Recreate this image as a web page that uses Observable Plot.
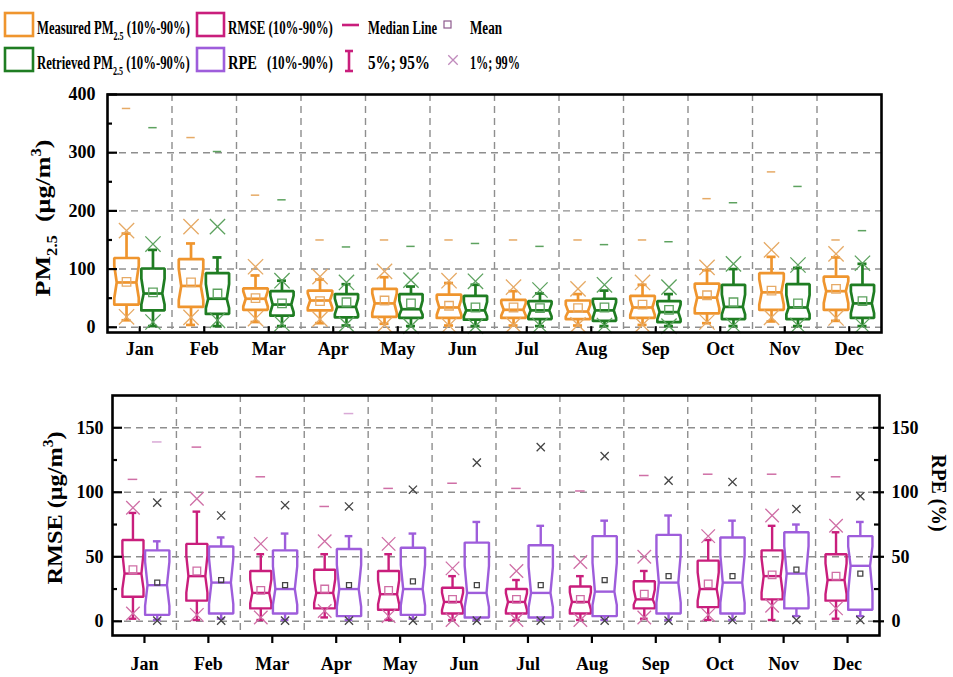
<!DOCTYPE html>
<html>
<head>
<meta charset="utf-8">
<script src="https://cdn.jsdelivr.net/npm/d3@7"></script>
<script src="https://cdn.jsdelivr.net/npm/@observablehq/plot@0.6"></script>
<style>
html,body{margin:0;padding:0;background:#fff;}
#wrap{width:953px;height:677px;overflow:hidden;position:relative;background:#fff;}
svg{display:block;}
</style>
</head>
<body>
<div id="wrap"><div id="legend"></div><div id="top"></div><div id="bottom"></div></div>
<script>
const months = ["Jan","Feb","Mar","Apr","May","Jun","Jul","Aug","Sep","Oct","Nov","Dec"];
const monthPos = [1,2,3,4,5,6,7,8,9,10,11,12];
const monthBounds = [1.5,2.5,3.5,4.5,5.5,6.5,7.5,8.5,9.5,10.5,11.5];

// Measured PM2.5 (µg/m3)
const measP1   = [18,17,15,14,4,3,4,4,4,9,17,16];
const measP5   = [12,4,9,7,6,3,3,3,4,7,10,11];
const measP10  = [39,35,30,29,18,16,16,14,16,24,30,30];
const measMed  = [77,71,49,46,41,34,30,27,34,51,60,62];
const measMean = [78,77,50,45,46,37,34,33,39,55,63,66];
const measP90  = [119,117,67,63,66,56,47,46,54,75,93,87];
const measP95  = [161,144,89,82,86,76,62,57,73,98,121,120];
const measP99  = [166,173,104,87,96,80,69,66,77,103,133,126];
const measMax  = [376,326,227,150,150,150,150,150,150,221,267,150];

// Retrieved PM2.5 (µg/m3)
const retP1   = [9,12,6,5,2,2,3,3,2,3,3,3];
const retP5   = [2,2,2,3,2,2,2,2,2,2,2,2];
const retP10  = [29,23,20,17,16,13,14,11,9,14,14,16];
const retMed  = [58,49,39,35,31,29,29,29,26,35,34,41];
const retMean = [60,58,41,43,41,34,33,34,30,43,41,45];
const retP90  = [101,93,62,57,57,54,45,49,45,73,74,73];
const retP95  = [133,120,80,74,70,73,58,63,57,100,102,109];
const retP99  = [143,173,80,77,81,79,64,73,69,109,107,110];
const retMax  = [343,302,219,138,139,144,139,142,147,214,242,166];

// RMSE (µg/m3)
const rmseP1   = [6,5,3,8,4,1,1,1,3,5,12,10];
const rmseP5   = [2,1,1,3,1,1,1,1,2,1,1,2];
const rmseP10  = [19,16,10,10,9,6,6,6,10,11,17,16];
const rmseMed  = [37,35,22,22,21,15,15,15,17,25,35,32];
const rmseMean = [40,39,24,25,24,17,17,17,21,29,36,35];
const rmseP90  = [63,60,39,40,39,26,25,27,31,47,55,52];
const rmseP95  = [84,85,52,52,52,35,32,35,39,63,74,69];
const rmseP99  = [88,95,60,62,60,41,39,46,50,66,82,74];
const rmseMax  = [110,135,112,89,103,107,103,101,113,114,114,112];

// RPE (%)
const rpeP1   = [0.5,0.5,0.5,0.5,0.5,0.5,0.5,0.5,0.5,1,1,1];
const rpeP5   = [1,2,1,1,2,1,1,1,1,1,4,4];
const rpeP10  = [5,6,6,4,5,3,3,4,6,6,10,9];
const rpeMed  = [28,30,25,25,25,22,22,23,30,30,37,43];
const rpeMean = [30,32,28,28,31,28,28,32,35,35,40,37];
const rpeP90  = [55,58,55,56,57,61,59,66,67,65,69,66];
const rpeP95  = [62,65,68,66,68,77,74,78,82,78,75,77];
const rpeP99  = [92,82,90,89,102,123,135,128,109,108,87,97];
const rpeMax  = [139,null,null,161,null,null,null,null,null,null,null,null];

// axis ticks
const pmTicks = [0,100,200,300,400];
const pmGrid = [0,100,200,300];
const pmMinor = [50,150,250,350];
const errTicks = [0,50,100,150];
const errMinor = [25,75,125];

const FONT = "'Liberation Serif','Times New Roman',serif";
const C = {
  orange:"#EF952E", orangeL:"#E6AA66",
  green:"#1F7D22", greenL:"#5DA25F",
  mag:"#C91E7C", magL:"#CF6FA6",
  purple:"#9E5DDB", dark:"#444444", purpleL:"#D9A9D6",
  grid:"#8E8E8E"
};

function rows(p1,p5,q10,med,mean,q90,p95,p99,max,off){
  return months.map((m,i)=>({c:i+1+off,p1:p1[i],p5:p5[i],q10:q10[i],med:med[i],mean:mean[i],q90:q90[i],p95:p95[i],p99:p99[i],max:max[i]}));
}
function notchPts(rs,hw){
  const pts=[];
  rs.forEach((d,k)=>{
    const h=d.q90-d.q10, ind=hw*0.8;
    const lo=Math.max(d.q10+0.14*h,d.med-0.36*h), hi=Math.min(d.q90-0.14*h,d.med+0.36*h);
    [[-hw,d.q10],[-hw,lo],[-ind,d.med],[-hw,hi],[-hw,d.q90],[hw,d.q90],[hw,hi],[ind,d.med],[hw,lo],[hw,d.q10],[-hw,d.q10]]
      .forEach(([dx,y])=>pts.push({x:d.c+dx,y,k}));
  });
  return pts;
}
function boxMarks(rs,s){
  const ind=s.hw*0.8;
  return [
    Plot.ruleX(rs,{x:"c",y1:"q90",y2:"p95",stroke:s.color,strokeWidth:s.sw}),
    Plot.ruleX(rs,{x:"c",y1:"q10",y2:"p5",stroke:s.color,strokeWidth:s.sw}),
    Plot.ruleY(rs,{y:"p95",x1:d=>d.c-s.cap,x2:d=>d.c+s.cap,stroke:s.color,strokeWidth:s.sw}),
    Plot.ruleY(rs,{y:"p5",x1:d=>d.c-s.cap,x2:d=>d.c+s.cap,stroke:s.color,strokeWidth:s.sw}),
    Plot.line(notchPts(rs,s.hw),{x:"x",y:"y",z:"k",stroke:s.color,strokeWidth:s.sw,strokeLinejoin:"miter"}),
    Plot.ruleY(rs,{y:"med",x1:d=>d.c-ind,x2:d=>d.c+ind,stroke:s.color,strokeWidth:s.sw}),
    Plot.dot(rs,{x:"c",y:"mean",symbol:"square",r:s.meanR,stroke:s.meanColor,strokeWidth:1.3,fill:"none"}),
    Plot.dot(rs,{x:"c",y:"p99",symbol:"times",r:s.xR,stroke:s.xColor,strokeWidth:1.3}),
    Plot.dot(rs,{x:"c",y:"p1",symbol:"times",r:s.xR,stroke:s.xColor,strokeWidth:1.3}),
    Plot.ruleY(rs.filter(d=>d.max!=null),{y:"max",x1:d=>d.c-s.dash,x2:d=>d.c+s.dash,stroke:s.maxColor,strokeWidth:1.5})
  ];
}

// ---------- top panel ----------
const measRows = rows(measP1,measP5,measP10,measMed,measMean,measP90,measP95,measP99,measMax,-0.205);
const retRows  = rows(retP1,retP5,retP10,retMed,retMean,retP90,retP95,retP99,retMax,0.205);
const topYmin = -9;
const topPlot = Plot.plot({
  width:953, height:292,
  marginLeft:107, marginRight:72, marginTop:14, marginBottom:40,
  x:{type:"linear",domain:[0.5,12.5],label:null},
  y:{domain:[topYmin,400],label:null},
  style:{fontFamily:FONT,fontWeight:"bold",background:"#fff",color:"#000"},
  marks:[
    Plot.ruleY(pmGrid,{stroke:C.grid,strokeWidth:1.4,strokeDasharray:"7,5"}),
    Plot.ruleX(monthBounds,{stroke:C.grid,strokeWidth:1.4,strokeDasharray:"7,5"}),
    ...boxMarks(measRows,{hw:0.19,sw:2.7,cap:0.07,color:C.orange,meanColor:C.orangeL,meanR:4.8,xColor:C.orangeL,xR:7,maxColor:C.orangeL,dash:0.065}),
    ...boxMarks(retRows,{hw:0.18,sw:2.7,cap:0.07,color:C.green,meanColor:C.greenL,meanR:4.8,xColor:C.greenL,xR:7,maxColor:C.greenL,dash:0.065}),
    Plot.ruleY(pmTicks,{y:d=>d,x1:0.5,x2:0.5+10/64.5,stroke:"#000",strokeWidth:2.2}),
    Plot.ruleY(pmMinor,{y:d=>d,x1:0.5,x2:0.5+5/64.5,stroke:"#000",strokeWidth:2.2}),
    Plot.ruleX(monthPos,{x:d=>d,y1:topYmin,y2:topYmin+10,stroke:"#000",strokeWidth:2.2}),
    Plot.frame({stroke:"#000",strokeWidth:2.6}),
    Plot.axisY(pmTicks,{anchor:"left",tickSize:0,tickPadding:12,fontSize:18,fontWeight:"bold",label:null}),
    Plot.axisX(monthPos,{anchor:"bottom",tickSize:0,tickPadding:10,fontSize:18,fontWeight:"bold",tickFormat:d=>months[d-1],label:null})
  ]
});
document.getElementById("top").appendChild(topPlot);

// ---------- bottom panel ----------
const rmseRows = rows(rmseP1,rmseP5,rmseP10,rmseMed,rmseMean,rmseP90,rmseP95,rmseP99,rmseMax,-0.18);
const rpeRows  = rows(rpeP1,rpeP5,rpeP10,rpeMed,rpeMean,rpeP90,rpeP95,rpeP99,rpeMax,0.2);
const botYmin = -11;
const botPlot = Plot.plot({
  width:953, height:305,
  marginLeft:112, marginRight:74, marginTop:23, marginBottom:42,
  x:{type:"linear",domain:[0.5,12.5],label:null},
  y:{domain:[botYmin,175],label:null},
  style:{fontFamily:FONT,fontWeight:"bold",background:"#fff",color:"#000"},
  marks:[
    Plot.ruleY(errTicks,{stroke:C.grid,strokeWidth:1.4,strokeDasharray:"7,5"}),
    Plot.ruleX(monthBounds,{stroke:C.grid,strokeWidth:1.4,strokeDasharray:"7,5"}),
    ...boxMarks(rmseRows,{hw:0.165,sw:2.4,cap:0.06,color:C.mag,meanColor:C.magL,meanR:4.3,xColor:C.magL,xR:6.2,maxColor:C.magL,dash:0.075}),
    ...boxMarks(rpeRows,{hw:0.19,sw:2.4,cap:0.06,color:C.purple,meanColor:C.dark,meanR:2.8,xColor:C.dark,xR:3.8,maxColor:C.purpleL,dash:0.075}),
    Plot.ruleY(errTicks,{y:d=>d,x1:0.5,x2:0.5+10/63.9,stroke:"#000",strokeWidth:2.2}),
    Plot.ruleY(errMinor,{y:d=>d,x1:0.5,x2:0.5+5/63.9,stroke:"#000",strokeWidth:2.2}),
    Plot.ruleY(errTicks,{y:d=>d,x1:12.5-6/63.9,x2:12.5+5/63.9,stroke:"#000",strokeWidth:2.2}),
    Plot.ruleY(errMinor,{y:d=>d,x1:12.5-5/63.9,x2:12.5,stroke:"#000",strokeWidth:2.2}),
    Plot.frame({stroke:"#000",strokeWidth:2.6}),
    Plot.axisY(errTicks,{anchor:"left",tickSize:0,tickPadding:9,fontSize:18,fontWeight:"bold",label:null}),
    Plot.axisY(errTicks,{anchor:"right",tickSize:0,tickPadding:12,fontSize:18,fontWeight:"bold",label:null}),
    Plot.axisX(monthPos,{anchor:"bottom",tickSize:8,strokeWidth:2.2,tickPadding:14,fontSize:18,fontWeight:"bold",tickFormat:d=>months[d-1],label:null})
  ]
});
document.getElementById("bottom").appendChild(botPlot);

// ---------- rich text helper ----------
function richText(parent, parts, size){
  const t = parent.append("text").attr("font-family",FONT).attr("font-weight","bold")
    .attr("font-size",size).attr("fill","#000");
  let shift=0;
  parts.forEach(p=>{
    const [str,kind]=Array.isArray(p)?p:[p,"n"];
    let target = kind==="sub"? Math.round(size*0.3) : kind==="sup"? -Math.round(size*0.42) : 0;
    const ts = t.append("tspan").attr("dy", target-shift).text(str);
    if(kind!=="n") ts.attr("font-size", Math.round(size*0.62));
    shift=target;
  });
  return t;
}
function fitText(t, width){
  const w = t.node().getComputedTextLength();
  if(w>0) t.attr("transform",`scale(${width/w},1)`);
}
function axisTitle(svg,x,y,rot,parts,size,len){
  const g=d3.select(svg).append("g").attr("transform",`translate(${x},${y}) rotate(${rot})`);
  const t=richText(g,parts,size).attr("text-anchor","middle");
  fitText(t,len);
}
axisTitle(topPlot,50,138,-90,["PM",["2.5","sub"],"\u00a0\u00a0(\u03bcg/m",["3","sup"],")"],22,157);
axisTitle(botPlot,62,136,-90,["RMSE (\u03bcg/m",["3","sup"],")"],22,153);
axisTitle(botPlot,932,121,90,["RPE (%)"],22,77);

// ---------- legend ----------
const L = d3.select("#legend").append("svg").attr("width",953).attr("height",80).style("display","block");
function swatch(x,y,w,h,col){
  L.append("rect").attr("x",x).attr("y",y).attr("width",w).attr("height",h)
    .attr("fill","none").attr("stroke",col).attr("stroke-width",2.6);
}
function ltext(x,y,parts,width){
  const g=L.append("g").attr("transform",`translate(${x},${y})`);
  const t=richText(g,parts,19);
  fitText(t,width);
}
swatch(5,13,28,23,C.orange);
swatch(5,48,28,23,C.green);
swatch(197,13,27,23,C.mag);
swatch(197,48,27,23,C.purple);
ltext(37,34,["Measured PM",["2.5","sub"]," (10%-90%)"],153);
ltext(37,69,["Retrieved PM",["2.5","sub"]," (10%-90%)"],153);
ltext(228,34,["RMSE (10%-90%)"],105);
ltext(228,69,["RPE"],29);
ltext(267,69,["(10%-90%)"],66);
L.append("line").attr("x1",342).attr("x2",359).attr("y1",25).attr("y2",25).attr("stroke",C.mag).attr("stroke-width",2.6);
ltext(368,34,["Median Line"],69);
L.append("line").attr("x1",349).attr("x2",349).attr("y1",50).attr("y2",72).attr("stroke",C.mag).attr("stroke-width",2.6);
L.append("line").attr("x1",345).attr("x2",353).attr("y1",51).attr("y2",51).attr("stroke",C.mag).attr("stroke-width",2.6);
L.append("line").attr("x1",345).attr("x2",353).attr("y1",71).attr("y2",71).attr("stroke",C.mag).attr("stroke-width",2.6);
ltext(368,69,["5%; 95%"],62);
L.append("rect").attr("x",444).attr("y",21).attr("width",7).attr("height",7).attr("fill","none").attr("stroke","#8E5A8E").attr("stroke-width",1.2);
ltext(470,34,["Mean"],32);
L.append("path").attr("transform","translate(453,60)").attr("d",d3.symbol(d3.symbolTimes,60)()).attr("fill","none").attr("stroke","#C08ABC").attr("stroke-width",1.3);
ltext(470,69,["1%; 99%"],50);
</script>
</body>
</html>
